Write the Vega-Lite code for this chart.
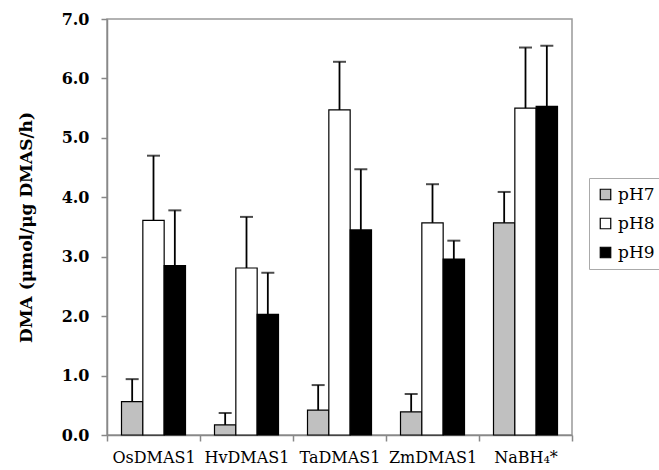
{
  "$schema": "https://vega.github.io/schema/vega-lite/v6.json",
  "autosize": "none",
  "width": 465,
  "height": 416,
  "padding": {"left": 107, "top": 19, "right": 87, "bottom": 35},
  "background": "white",
  "config": {
    "font": "DejaVu Serif",
    "view": {"stroke": "#999999", "strokeWidth": 1.5},
    "axis": {"domainColor": "#888888", "tickColor": "#888888", "domainWidth": 1.5, "tickWidth": 1.5, "labelColor": "black", "grid": false}
  },
  "data": {
    "values": [
      {"g": "OsDMAS1", "ph": "pH7", "v": 0.56, "e": 0.94},
      {"g": "OsDMAS1", "ph": "pH8", "v": 3.61, "e": 4.70},
      {"g": "OsDMAS1", "ph": "pH9", "v": 2.85, "e": 3.78},
      {"g": "HvDMAS1", "ph": "pH7", "v": 0.17, "e": 0.37},
      {"g": "HvDMAS1", "ph": "pH8", "v": 2.81, "e": 3.67},
      {"g": "HvDMAS1", "ph": "pH9", "v": 2.03, "e": 2.73},
      {"g": "TaDMAS1", "ph": "pH7", "v": 0.42, "e": 0.84},
      {"g": "TaDMAS1", "ph": "pH8", "v": 5.47, "e": 6.28},
      {"g": "TaDMAS1", "ph": "pH9", "v": 3.45, "e": 4.47},
      {"g": "ZmDMAS1", "ph": "pH7", "v": 0.39, "e": 0.69},
      {"g": "ZmDMAS1", "ph": "pH8", "v": 3.57, "e": 4.22},
      {"g": "ZmDMAS1", "ph": "pH9", "v": 2.96, "e": 3.27},
      {"g": "NaBH₄*", "ph": "pH7", "v": 3.57, "e": 4.09},
      {"g": "NaBH₄*", "ph": "pH8", "v": 5.50, "e": 6.52},
      {"g": "NaBH₄*", "ph": "pH9", "v": 5.53, "e": 6.55}
    ]
  },
  "encoding": {
    "x": {
      "field": "g", "type": "nominal",
      "sort": ["OsDMAS1", "HvDMAS1", "TaDMAS1", "ZmDMAS1", "NaBH₄*"],
      "scale": {"paddingInner": 0, "paddingOuter": 0},
      "axis": {"title": null, "labelAngle": 0, "labelFontSize": 16, "tickBand": "extent", "tickSize": 6, "labelPadding": 8}
    },
    "xOffset": {
      "field": "ph", "type": "nominal",
      "scale": {"paddingOuter": 0.68, "paddingInner": 0}
    }
  },
  "layer": [
    {
      "mark": {"type": "bar", "stroke": "black", "strokeWidth": 1.2},
      "encoding": {
        "y": {
          "field": "v", "type": "quantitative",
          "scale": {"domain": [0, 7], "nice": false},
          "axis": {"title": "DMA (μmol/μg DMAS/h)", "titleFontSize": 17, "titleFontWeight": "bold", "titlePadding": 26, "values": [0, 1, 2, 3, 4, 5, 6, 7], "format": ".1f", "labelFontSize": 16, "labelFontWeight": "bold", "tickSize": 6, "labelPadding": 12}
        },
        "color": {
          "field": "ph", "type": "nominal",
          "scale": {"domain": ["pH7", "pH8", "pH9"], "range": ["#c0c0c0", "#ffffff", "#000000"]},
          "legend": {
            "title": null, "orient": "none", "legendX": 482, "legendY": 159,
            "symbolType": "square", "symbolSize": 110, "symbolStrokeColor": "black", "symbolStrokeWidth": 1.2,
            "labelFontSize": 17, "rowPadding": 11, "padding": 8,
            "strokeColor": "#aaaaaa", "fillColor": "white", "labelOffset": 4
          }
        }
      }
    },
    {
      "mark": {"type": "rule", "color": "black", "strokeWidth": 1.8},
      "encoding": {
        "y": {"field": "v", "type": "quantitative"},
        "y2": {"field": "e"}
      }
    },
    {
      "mark": {"type": "tick", "color": "black", "thickness": 2, "size": 13},
      "encoding": {
        "y": {"field": "e", "type": "quantitative"}
      }
    }
  ]
}
